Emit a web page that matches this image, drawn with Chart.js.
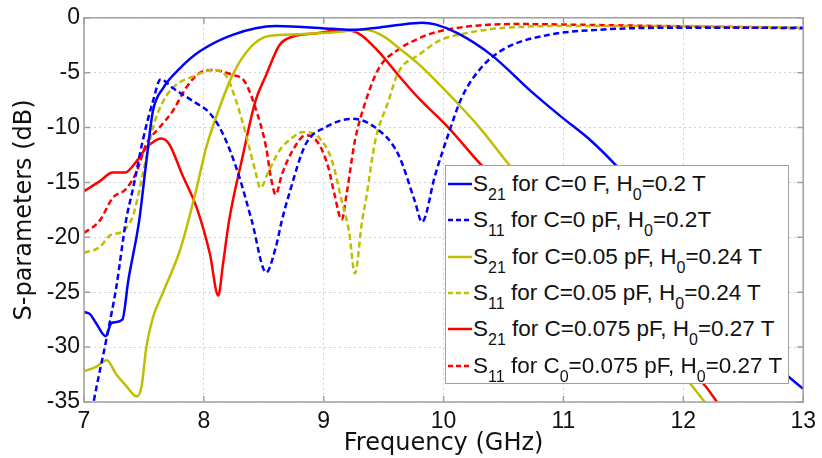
<!DOCTYPE html>
<html lang="en">
<head>
  <meta charset="UTF-8">
  <title>S-parameters</title>
  <script src="https://cdn.jsdelivr.net/npm/chart.js"></script>
  <style>
    body { margin: 0; background: #fff; }
    .container { position: relative; width: 822px; height: 458px; }
    #legend {
      position: absolute; left: 445px; top: 165px; width: 342px; height: 217px;
      border: 1px solid #a0a0a0; background: #fff;
      font-family: "Liberation Sans", Arial, sans-serif; font-size: 22.5px; color: #111;
    }
    .row { height: 36.3px; display: flex; align-items: center; white-space: nowrap; }
    .row svg { margin-left: 2px; margin-right: 1px; flex: none; }
    .row sub { font-size: 16px; vertical-align: -9px; line-height: 0; }
  </style>
</head>
<body>
  <div class="container">
    <canvas id="myChart" width="822" height="458"></canvas>
    <div id="legend"></div>
  </div>
  <script>
    // tick values
    const xTicks = [7, 8, 9, 10, 11, 12, 13]
    const yTicks = [0, -5, -10, -15, -20, -25, -30, -35]

    // S21, C=0 F, H0=0.2 T
    const freqS21a = [7.0, 7.05, 7.1, 7.18, 7.23, 7.32, 7.37, 7.46, 7.52, 7.575, 7.66, 7.8, 7.96, 8.24, 8.6, 9.07, 9.24, 9.45, 9.62, 9.82, 9.93, 10.12, 10.4, 10.73, 10.98, 11.23, 11.43, 11.6, 11.8, 12.0, 12.2, 12.4, 12.6, 12.85, 13.0]
    const dbS21a = [-26.8, -27.0, -27.8, -29.0, -27.8, -27.5, -23.9, -18.5, -13.1, -8.5, -6.4, -4.6, -3.1, -1.55, -0.75, -1.0, -1.1, -0.9, -0.66, -0.45, -0.6, -1.42, -3.4, -6.7, -9.0, -11.2, -13.35, -15.4, -18.0, -20.7, -23.5, -26.2, -29.0, -32.4, -33.8]

    // S11, C=0 pF, H0=0.2 T
    const freqS11a = [7.0, 7.08, 7.19, 7.27, 7.35, 7.41, 7.49, 7.575, 7.64, 7.74, 7.91, 8.05, 8.16, 8.29, 8.4, 8.52, 8.6, 8.65, 8.71, 8.85, 9.01, 9.24, 9.43, 9.62, 9.76, 9.82, 9.93, 10.04, 10.15, 10.31, 10.51, 10.87, 11.28, 11.97, 13.0]
    const dbS11a = [-40, -35, -29.1, -24.5, -18.5, -15.5, -11.2, -7.6, -5.6, -6.4, -7.6, -8.7, -10.6, -14.3, -18.5, -23.2, -20.9, -18.5, -16.1, -11.5, -10.0, -9.2, -10.0, -12.4, -16.7, -18.6, -14.3, -10.6, -7.3, -4.6, -2.8, -1.57, -1.1, -0.9, -0.9]

    // S21, C=0.05 pF, H0=0.24 T
    const freqS21b = [7.0, 7.1, 7.19, 7.27, 7.35, 7.44, 7.48, 7.52, 7.575, 7.66, 7.8, 7.87, 7.94, 8.02, 8.13, 8.24, 8.38, 8.54, 8.79, 9.07, 9.35, 9.5, 9.62, 9.79, 9.95, 10.1, 10.3, 10.54, 10.8, 11.0, 11.2, 11.4, 11.6, 11.8, 12.07, 12.2]
    const dbS21b = [-32.2, -31.8, -31.2, -32.5, -33.5, -34.5, -33.6, -30.0, -27.3, -25.0, -21.2, -18.5, -15.5, -11.8, -8.2, -5.2, -2.8, -1.66, -1.5, -1.33, -1.1, -1.7, -2.7, -4.2, -5.9, -7.6, -10.0, -13.3, -16.7, -19.3, -22.0, -24.6, -27.3, -29.9, -33.5, -35.3]

    // S11, C=0.05 pF, H0=0.24 T
    const freqS11b = [7.0, 7.13, 7.22, 7.32, 7.38, 7.41, 7.49, 7.575, 7.66, 7.77, 7.91, 8.07, 8.18, 8.27, 8.35, 8.43, 8.47, 8.54, 8.63, 8.74, 8.83, 8.96, 9.07, 9.15, 9.21, 9.26, 9.32, 9.35, 9.43, 9.54, 9.62, 9.79, 9.98, 10.18, 10.45, 11.0, 11.97, 13.0]
    const dbS11b = [-21.4, -20.9, -19.8, -19.5, -18.7, -18.0, -14.3, -10.0, -7.6, -6.1, -5.35, -4.75, -5.2, -7.6, -10.6, -14.0, -15.5, -14.0, -12.1, -10.9, -10.4, -10.9, -13.05, -16.7, -19.4, -23.3, -18.5, -16.7, -11.2, -7.6, -5.0, -3.4, -2.0, -1.42, -0.97, -0.75, -0.75, -0.9]

    // S21, C=0.075 pF, H0=0.27 T
    const freqS21c = [7.0, 7.13, 7.24, 7.34, 7.44, 7.52, 7.645, 7.71, 7.82, 7.94, 8.05, 8.12, 8.16, 8.21, 8.32, 8.43, 8.52, 8.63, 8.74, 8.93, 9.15, 9.29, 9.46, 9.62, 9.79, 10.04, 10.31, 10.6, 10.9, 11.2, 11.5, 11.8, 12.0, 12.18, 12.3]
    const dbS21c = [-15.8, -14.9, -14.1, -14.1, -13.05, -11.85, -11.0, -11.5, -14.3, -17.3, -21.5, -25.3, -22.4, -18.5, -12.8, -7.6, -5.2, -2.5, -1.72, -1.42, -1.12, -1.42, -3.1, -5.2, -7.3, -10.0, -13.35, -16.5, -19.8, -23.0, -26.2, -29.4, -31.5, -33.5, -35.3]

    // S11, C0=0.075 pF, H0=0.27 T
    const freqS11c = [7.0, 7.13, 7.24, 7.35, 7.44, 7.52, 7.63, 7.74, 7.85, 7.96, 8.07, 8.24, 8.34, 8.43, 8.52, 8.56, 8.6, 8.65, 8.74, 8.85, 8.96, 9.04, 9.09, 9.15, 9.19, 9.26, 9.35, 9.46, 9.62, 9.79, 9.9, 10.18, 10.59, 11.28, 13.0]
    const dbS11c = [-19.6, -18.5, -16.4, -15.6, -14.0, -11.5, -10.0, -8.5, -6.4, -5.05, -4.75, -5.2, -5.8, -8.2, -11.85, -14.6, -16.1, -14.3, -12.1, -10.7, -11.5, -13.7, -16.1, -18.4, -16.1, -11.2, -7.6, -4.6, -2.9, -1.9, -1.42, -0.82, -0.57, -0.66, -0.97]

    const legendLabels = [
      'S<sub>21</sub> for C=0 F, H<sub>0</sub>=0.2 T',
      'S<sub>11</sub> for C=0 pF, H<sub>0</sub>=0.2T',
      'S<sub>21</sub> for C=0.05 pF, H<sub>0</sub>=0.24 T',
      'S<sub>11</sub> for C=0.05 pF, H<sub>0</sub>=0.24 T',
      'S<sub>21</sub> for C=0.075 pF, H<sub>0</sub>=0.27 T',
      'S<sub>11</sub> for C<sub>0</sub>=0.075 pF, H<sub>0</sub>=0.27 T'
    ]

    const blue = '#0000ff'
    const olive = '#bfbf00'
    const red = '#ff0000'
    const dash = [6, 3.5]

    function pts(fs, vs) {
      return fs.map((f, i) => ({ x: f, y: vs[i] }))
    }

    function line(i, fs, vs, color, dashed) {
      return {
        label: legendLabels[i].replace(/<\/?sub>/g, ''),
        data: pts(fs, vs),
        borderColor: color,
        borderWidth: 2.5,
        borderDash: dashed ? dash : [],
        pointRadius: 0,
        cubicInterpolationMode: 'monotone',
        fill: false
      }
    }

    const datasets = [
      line(0, freqS21a, dbS21a, blue, false),
      line(1, freqS11a, dbS11a, blue, true),
      line(2, freqS21b, dbS21b, olive, false),
      line(3, freqS11b, dbS11b, olive, true),
      line(4, freqS21c, dbS21c, red, false),
      line(5, freqS11c, dbS11c, red, true)
    ]

    // matlab style box with inward ticks
    const frame = {
      id: 'frame',
      afterDatasetsDraw(chart) {
        const { ctx, chartArea: a, scales: { x, y } } = chart
        ctx.save()
        ctx.strokeStyle = '#a0a0a0'
        ctx.lineWidth = 1.5
        ctx.strokeRect(a.left, a.top, a.right - a.left, a.bottom - a.top)
        ctx.beginPath()
        xTicks.forEach(v => {
          const px = x.getPixelForValue(v)
          ctx.moveTo(px, a.bottom); ctx.lineTo(px, a.bottom - 6)
          ctx.moveTo(px, a.top); ctx.lineTo(px, a.top + 6)
        })
        yTicks.forEach(v => {
          const py = y.getPixelForValue(v)
          ctx.moveTo(a.left, py); ctx.lineTo(a.left + 6, py)
          ctx.moveTo(a.right, py); ctx.lineTo(a.right - 6, py)
        })
        ctx.stroke()
        ctx.restore()
      }
    }

    const tickFont = { family: 'Liberation Sans', size: 23 }
    const titleFont = { family: 'DejaVu Sans', size: 24 }

    new Chart(document.getElementById('myChart'), {
      type: 'line',
      data: { datasets },
      options: {
        responsive: false,
        animation: false,
        devicePixelRatio: 1,
        layout: { padding: { top: 16, right: 15, left: 0, bottom: 0 } },
        plugins: { legend: { display: false }, tooltip: { enabled: false } },
        scales: {
          x: {
            type: 'linear', min: 7, max: 13,
            afterBuildTicks: s => { s.ticks = xTicks.map(v => ({ value: v })) },
            afterFit: s => { s.height = 56 },
            ticks: { font: tickFont, color: '#111', padding: 6, maxRotation: 0 },
            grid: { color: '#d0d0d0', drawTicks: false, lineWidth: 1 },
            border: { display: false, dash: [2, 3] },
            title: { display: true, text: 'Frequency (GHz)', font: titleFont, color: '#111', padding: { top: 0, bottom: 0 } }
          },
          y: {
            type: 'linear', min: -35, max: 0,
            afterBuildTicks: s => { s.ticks = yTicks.map(v => ({ value: v })) },
            afterFit: s => { s.width = 84 },
            ticks: { font: tickFont, color: '#111', padding: 4 },
            grid: { color: '#d0d0d0', drawTicks: false, lineWidth: 1 },
            border: { display: false, dash: [2, 3] },
            title: { display: true, text: 'S-parameters (dB)', font: titleFont, color: '#111', padding: { top: 10, bottom: 0 } }
          }
        }
      },
      plugins: [frame]
    })

    // legend with subscripts, drawn as html over the plot
    const legendEl = document.getElementById('legend')
    datasets.forEach((d, i) => {
      const row = document.createElement('div')
      row.className = 'row'
      const da = d.borderDash.length ? 'stroke-dasharray="5,3"' : ''
      row.innerHTML = '<svg width="24" height="6"><line x1="0" y1="3" x2="24" y2="3" stroke="' +
        d.borderColor + '" stroke-width="2.5" ' + da + '/></svg><span>' + legendLabels[i] + '</span>'
      legendEl.appendChild(row)
    })
  </script>
</body>
</html>
